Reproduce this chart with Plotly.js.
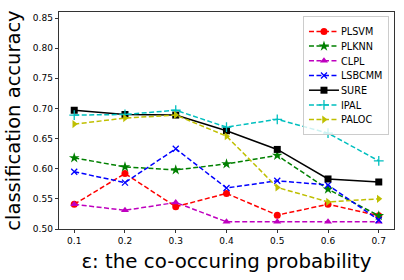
<!DOCTYPE html>
<html>
<head>
<meta charset="utf-8">
<script src="https://cdn.plot.ly/plotly-3.0.1.min.js"></script>
<style>html,body{margin:0;padding:0;background:#fff;}#chart{width:404px;height:280px;}</style>
</head>
<body>
<div id="chart"></div>
<script>
const epsilon = [0.1, 0.2, 0.3, 0.4, 0.5, 0.6, 0.7];
const PLSVM  = [0.541, 0.592, 0.537, 0.559, 0.523, 0.541, 0.522];
const PLKNN  = [0.618, 0.603, 0.598, 0.608, 0.622, 0.566, 0.522];
const CLPL   = [0.541, 0.531, 0.544, 0.512, 0.512, 0.512, 0.512];
const LSBCMM = [0.595, 0.577, 0.633, 0.568, 0.580, 0.573, 0.515];
const SURE   = [0.697, 0.690, 0.689, 0.663, 0.632, 0.583, 0.578];
const IPAL   = [0.689, 0.690, 0.697, 0.669, 0.682, 0.659, 0.613];
const PALOC  = [0.674, 0.684, 0.689, 0.654, 0.569, 0.545, 0.550];
const yTicks = [0.50, 0.55, 0.60, 0.65, 0.70, 0.75, 0.80, 0.85];
const xTicks = [0.1, 0.2, 0.3, 0.4, 0.5, 0.6, 0.7];

function tr(name, y, color, symbol, dash, size) {
  const thin = symbol === 'x-thin' || symbol === 'cross-thin';
  return {
    x: epsilon, y: y, name: name, type: 'scatter', mode: 'lines+markers',
    line: {color: color, width: 1.5, dash: dash},
    marker: {color: color, symbol: symbol, size: size, line: {color: color, width: thin ? 1.3 : 0}}
  };
}
const dash = '5px,2.5px';
const data = [
  tr('PLSVM', PLSVM, '#ff0000', 'circle', dash, 7),
  tr('PLKNN', PLKNN, '#008000', 'star', dash, 8),
  tr('CLPL', CLPL, '#bf00bf', 'triangle-up', dash, 7),
  tr('LSBCMM', LSBCMM, '#0000ff', 'x-thin', dash, 6),
  tr('SURE', SURE, '#000000', 'square', 'solid', 7),
  tr('IPAL', IPAL, '#00bfbf', 'cross-thin', dash, 7),
  tr('PALOC', PALOC, '#bfbf00', 'triangle-right', dash, 7)
];
const font = 'DejaVu Sans, sans-serif';
const layout = {
  width: 404, height: 280,
  margin: {l: 59, r: 10, t: 12, b: 51},
  paper_bgcolor: '#fff', plot_bgcolor: '#fff',
  font: {family: font, color: '#000', size: 9},
  showlegend: true,
  legend: {
    x: 0.985, y: 0.982, xanchor: 'right', yanchor: 'top',
    bgcolor: 'rgba(255,255,255,0.8)', bordercolor: '#cccccc', borderwidth: 1,
    font: {family: font, size: 9.7, color: '#000'},
    tracegroupgap: 0
  },
  xaxis: {
    range: [0.07, 0.73], tickvals: xTicks, ticktext: xTicks.map(v => v.toFixed(1)),
    ticks: 'outside', ticklen: 3.5, tickwidth: 0.8, tickcolor: '#000',
    showline: true, linecolor: '#000', linewidth: 0.8, mirror: true,
    showgrid: false, zeroline: false, automargin: false,
    tickfont: {family: font, size: 9, color: '#000'},
    title: {text: 'ε: the co-occuring probability', font: {family: font, size: 19.8, color: '#000'}, standoff: 8}
  },
  yaxis: {
    range: [0.50, 0.86], tickvals: yTicks, ticktext: yTicks.map(v => v.toFixed(2)),
    ticks: 'outside', ticklen: 3.5, tickwidth: 0.8, tickcolor: '#000',
    showline: true, linecolor: '#000', linewidth: 0.8, mirror: true,
    showgrid: false, zeroline: false, automargin: false,
    tickfont: {family: font, size: 9, color: '#000'},
    title: {text: 'classification accuracy', font: {family: font, size: 19.5, color: '#000'}, standoff: 6}
  }
};
Plotly.newPlot('chart', data, layout, {displayModeBar: false, staticPlot: true}).then(function (gd) {
  // tighten legend row spacing to match the reference (~14.7px per entry)
  const leg = gd.querySelector('g.legend');
  if (!leg) return;
  const items = leg.querySelectorAll('g.traces');
  if (items.length < 2) return;
  const parse = t => { const m = /translate\(\s*([-\d.]+)[ ,]+([-\d.]+)/.exec(t || ''); return m ? [parseFloat(m[1]), parseFloat(m[2])] : [0, 0]; };
  const p0 = parse(items[0].getAttribute('transform'));
  const p1 = parse(items[1].getAttribute('transform'));
  const oldStep = p1[1] - p0[1];
  const step = 14.7;
  items.forEach(function (g, i) {
    const p = parse(g.getAttribute('transform'));
    g.setAttribute('transform', 'translate(' + p[0] + ',' + (p0[1] + i * step) + ')');
    // shorten gap between symbol and text slightly
    const txt = g.querySelector('text.legendtext');
    if (txt) txt.setAttribute('x', 37);
  });
  const shrink = (items.length - 1) * (oldStep - step);
  const bg = leg.querySelector('rect.bg');
  if (bg) {
    bg.setAttribute('height', parseFloat(bg.getAttribute('height')) - shrink);
    bg.setAttribute('width', parseFloat(bg.getAttribute('width')) - 3);
    const lt = parse(leg.getAttribute('transform'));
    leg.setAttribute('transform', 'translate(' + (lt[0] + 3) + ',' + lt[1] + ')');
  }
});
</script>
</body>
</html>
